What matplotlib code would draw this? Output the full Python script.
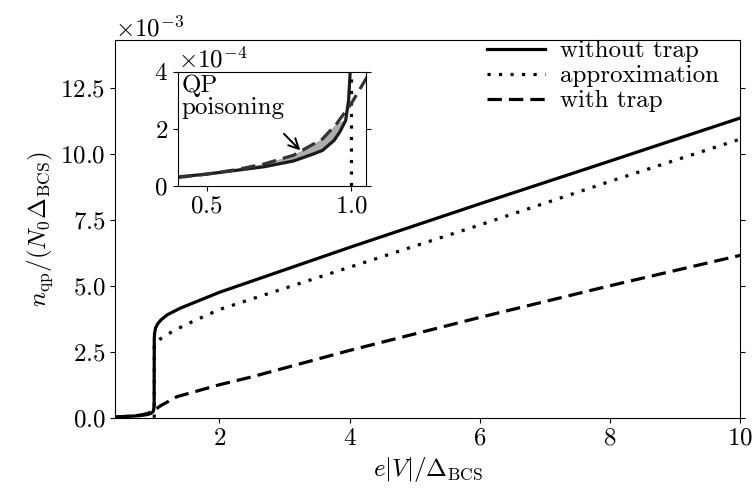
import numpy as np
import matplotlib
matplotlib.use("Agg")
import matplotlib.pyplot as plt
from matplotlib.ticker import MultipleLocator

plt.rcParams['font.family'] = 'serif'
plt.rcParams['font.serif'] = ['cmr10']
plt.rcParams['mathtext.fontset'] = 'cm'
plt.rcParams['axes.formatter.use_mathtext'] = True
plt.rcParams['axes.unicode_minus'] = False
plt.rcParams['font.size'] = 18

# voltage e|V|/Delta_BCS and densities n_qp/(N0 Delta_BCS)
v_notrap = [0.4, 0.5, 0.6, 0.7, 0.8, 0.87, 0.9, 0.94, 0.96, 0.98, 0.99, 0.995, 0.998,
            1.0, 1.005, 1.02, 1.05, 1.1, 1.2, 1.4, 1.7, 2.0, 3.0, 4.0, 6.0, 8.0, 10.0]
n_notrap = [0.032e-3, 0.042e-3, 0.055e-3, 0.068e-3, 0.088e-3, 0.113e-3, 0.125e-3, 0.16e-3,
            0.19e-3, 0.23e-3, 0.30e-3, 0.39e-3, 0.6e-3,
            3.0e-3, 3.2e-3, 3.4e-3, 3.55e-3, 3.7e-3, 3.9e-3, 4.15e-3, 4.45e-3, 4.75e-3,
            5.6e-3, 6.45e-3, 8.1e-3, 9.72e-3, 11.35e-3]

v_approx = [1.0, 1.0001, 1.05, 1.1, 1.3, 1.55, 2.0, 3.0, 4.0, 6.0, 8.0, 10.0]
n_approx = [0.0, 2.8e-3, 2.9e-3, 3.0e-3, 3.3e-3, 3.6e-3, 4.1e-3, 4.9e-3, 5.7e-3,
            7.3e-3, 8.95e-3, 10.55e-3]

v_trap = [0.4, 0.5, 0.6, 0.7, 0.8, 0.9, 0.95, 1.0, 1.05, 1.1, 1.35, 2.0, 2.5, 4.0, 6.0, 8.0, 10.0]
n_trap = [0.03e-3, 0.042e-3, 0.057e-3, 0.078e-3, 0.108e-3, 0.165e-3, 0.22e-3, 0.29e-3,
          0.375e-3, 0.46e-3, 0.8e-3, 1.25e-3, 1.55e-3, 2.55e-3, 3.8e-3, 5.0e-3, 6.15e-3]

lw = 2.3
dot = (0, (1, 2.6))
dash = (0, (4.5, 2.2))

fig = plt.figure(figsize=(7.53, 4.95), dpi=100)
ax = fig.add_axes([0.153, 0.156, 0.830, 0.763])
ax.plot(v_notrap, n_notrap, 'k-', lw=lw, label='without trap')
ax.plot(v_approx, n_approx, color='k', ls=dot, lw=lw, label='approximation')
ax.plot(v_trap, n_trap, color='k', ls=dash, lw=lw, label='with trap')
ax.set_xlim(0.4, 10)
ax.set_ylim(0, 14.3e-3)
ax.yaxis.set_major_locator(MultipleLocator(2.5e-3))
ax.ticklabel_format(axis='y', style='sci', scilimits=(-3, -3))
ax.tick_params(right=True)
ax.set_xlabel(r'$e|V|/\Delta_{\rm BCS}$')
ax.set_ylabel(r'$n_{\rm qp}/(N_0\Delta_{\rm BCS})$')
ax.legend(loc='upper right', bbox_to_anchor=(0.982, 1.027), frameon=False,
          handlelength=2.3, borderaxespad=0, labelspacing=0.1, handletextpad=0.6)

# inset: zoom below the gap
ins = fig.add_axes([0.236, 0.624, 0.250, 0.231])
sel_s = [(x, y) for x, y in zip(v_notrap, n_notrap) if 0.6 <= x <= 0.985]
sel_t = [(x, y) for x, y in zip(v_trap, n_trap) if 0.6 <= x <= 0.985]
poly = sel_s + sel_t[::-1]
ins.fill([p[0] for p in poly], [p[1] for p in poly], color='0.68', lw=0)
ins.plot(v_notrap, n_notrap, color='0.1', lw=lw)
ins.plot(v_approx, n_approx, color='k', ls=dot, lw=lw)
ins.plot(v_trap, n_trap, color='0.2', ls=dash, lw=lw)
ins.set_xlim(0.4, 1.05)
ins.set_ylim(0, 4e-4)
ins.yaxis.set_major_locator(MultipleLocator(2e-4))
ins.xaxis.set_major_locator(MultipleLocator(0.5))
ins.ticklabel_format(axis='y', style='sci', scilimits=(-4, -4))
ins.tick_params(right=True)
ins.text(0.02, 0.98, 'QP\npoisoning', transform=ins.transAxes, va='top', ha='left',
         linespacing=1.0)
ins.annotate('', xy=(0.83, 1.18e-4), xytext=(0.76, 1.9e-4),
             arrowprops=dict(arrowstyle='->', color='k', lw=1.4))

fig.savefig('out.png', dpi=100)
